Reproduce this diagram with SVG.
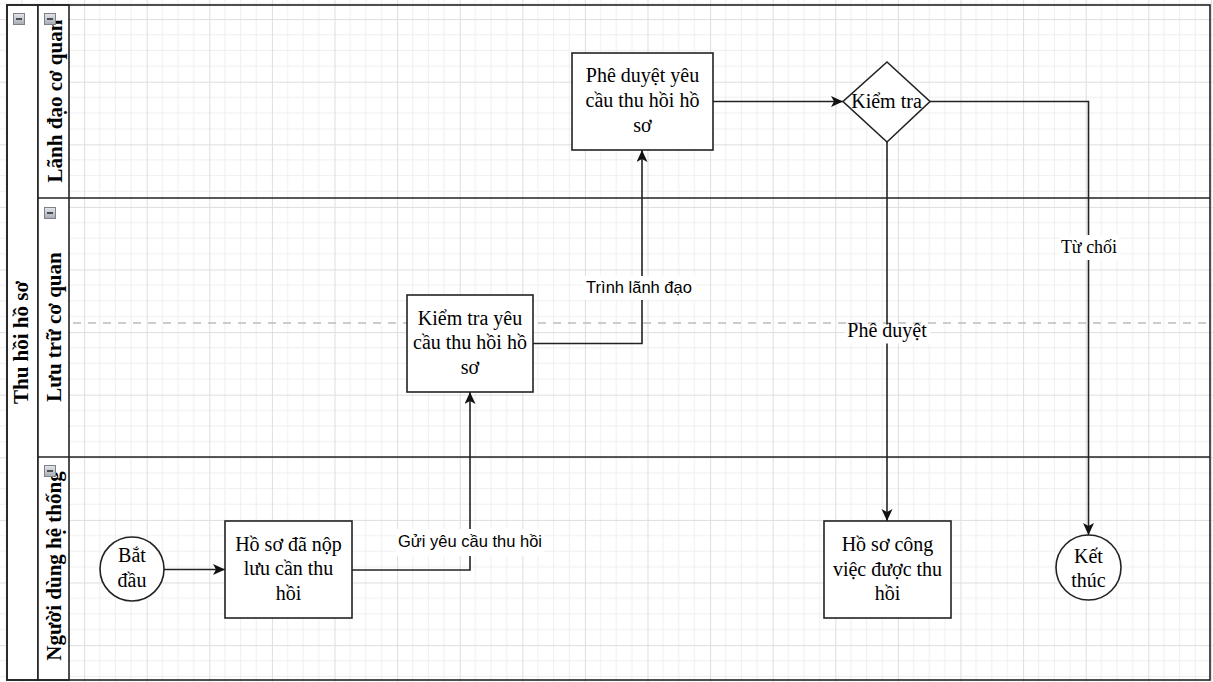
<svg xmlns="http://www.w3.org/2000/svg" width="1213" height="682" viewBox="0 0 1213 682">
  <defs>
    <!-- background grid: minor cells with a stronger line every 4 cells -->
    <pattern id="grid" patternUnits="userSpaceOnUse" x="21.5" y="19.1" width="62.6" height="62.6">
      <path d="M15.65,0 V62.6 M31.3,0 V62.6 M46.95,0 V62.6 M0,15.65 H62.6 M0,31.3 H62.6 M0,46.95 H62.6" stroke="#efefef" stroke-width="1" fill="none"/>
      <path d="M0.5,0 V62.6 M0,0.5 H62.6" stroke="#dedede" stroke-width="1" fill="none"/>
    </pattern>
    <linearGradient id="iconFill" x1="0" y1="0" x2="0" y2="1">
      <stop offset="0" stop-color="#e4e6ea"/>
      <stop offset="1" stop-color="#a7abb3"/>
    </linearGradient>
    <marker id="arrow" markerUnits="userSpaceOnUse" markerWidth="14" markerHeight="12" refX="12" refY="5.5" orient="auto">
      <path d="M0,0 L12,5.5 L0,11 L3,5.5 Z" fill="#111"/>
    </marker>
    <g id="collapse">
      <rect x="0.5" y="0.5" width="11" height="11" fill="url(#iconFill)" stroke="#7d828a" stroke-width="1"/>
      <rect x="3" y="5" width="6" height="2" fill="#4a4d52"/>
    </g>
  </defs>
  <style>
    .pool { fill: none; stroke: #222; stroke-width: 1.6; }
    .hdr { fill: #fff; stroke: #222; stroke-width: 1.6; }
    .sep { stroke: #222; stroke-width: 1.6; fill: none; }
    .mid { stroke: #bdbdbd; stroke-width: 1.5; stroke-dasharray: 8 7; fill: none; }
    .node { fill: #fff; stroke: #222; stroke-width: 1.6; }
    .edge { fill: none; stroke: #222; stroke-width: 1.6; }
    .lbl-bg { fill: #fff; }
    .title { font-family: "Liberation Serif", "Times New Roman", serif; font-weight: bold; font-size: 21px; fill: #000; text-anchor: middle; }
    .txt { font-family: "Liberation Serif", "Times New Roman", serif; font-size: 20px; fill: #000; text-anchor: middle; }
    .etxt { font-family: "Liberation Sans", Arial, sans-serif; font-size: 16.5px; fill: #000; text-anchor: middle; }
  </style>

  <rect x="0" y="0" width="1213" height="682" fill="#fff"/>
  <rect x="0" y="0" width="1213" height="682" fill="url(#grid)"/>

  <!-- pool and lanes -->
  <g id="pool">
    <rect class="hdr" x="7" y="5" width="31" height="675"/>
    <rect class="hdr" x="38" y="5" width="31" height="675"/>
    <rect class="pool" x="7" y="5" width="1203" height="675"/>
    <line class="sep" x1="38" y1="198" x2="1210" y2="198"/>
    <line class="sep" x1="38" y1="457" x2="1210" y2="457"/>
    <line class="mid" x1="73" y1="323" x2="1210" y2="323"/>
    <text class="title" transform="translate(28,342.5) rotate(-90)">Thu hồi hồ sơ</text>
    <text class="title" transform="translate(62,101) rotate(-90)">Lãnh đạo cơ quan</text>
    <text class="title" transform="translate(61,327) rotate(-90)">Lưu trữ cơ quan</text>
    <text class="title" transform="translate(61,566) rotate(-90)">Người dùng hệ thống</text>
    <use href="#collapse" x="13" y="13"/>
    <use href="#collapse" x="44" y="13"/>
    <use href="#collapse" x="44" y="207"/>
    <use href="#collapse" x="44" y="465"/>
  </g>

  <!-- connectors -->
  <g id="connectors">
    <path class="edge" d="M164,569.5 L225,569.5" marker-end="url(#arrow)"/>
    <path class="edge" d="M352,570 L470,570 L470,392" marker-end="url(#arrow)"/>
    <path class="edge" d="M533,343.5 L642,343.5 L642,150" marker-end="url(#arrow)"/>
    <path class="edge" d="M713,101.5 L843,101.5" marker-end="url(#arrow)"/>
    <path class="edge" d="M887,142 L887,521" marker-end="url(#arrow)"/>
    <path class="edge" d="M930,101.5 L1088.5,101.5 L1088.5,535" marker-end="url(#arrow)"/>

    <rect class="lbl-bg" x="396" y="529" width="148" height="27"/>
    <text class="etxt" x="470" y="547">Gửi yêu cầu thu hồi</text>
    <rect class="lbl-bg" x="583" y="276" width="113" height="24"/>
    <text class="etxt" x="639" y="292.5">Trình lãnh đạo</text>
    <rect class="lbl-bg" x="845" y="324.5" width="85" height="19"/>
    <text class="txt" x="887" y="337">Phê duyệt</text>
    <rect class="lbl-bg" x="1060" y="235" width="59" height="25"/>
    <text class="txt" x="1089" y="253" style="font-size:18px">Từ chối</text>
  </g>

  <!-- nodes -->
  <g id="start">
    <circle class="node" cx="132" cy="569" r="32"/>
    <text class="txt" x="132" y="562">Bắt</text>
    <text class="txt" x="132" y="587">đầu</text>
  </g>
  <g id="submitted">
    <rect class="node" x="225" y="521" width="127" height="97"/>
    <text class="txt" x="288.5" y="550.5">Hồ sơ đã nộp</text>
    <text class="txt" x="288.5" y="575">lưu cần thu</text>
    <text class="txt" x="288.5" y="599.5">hồi</text>
  </g>
  <g id="review">
    <rect class="node" x="407" y="295" width="126" height="97"/>
    <text class="txt" x="470" y="324.5">Kiểm tra yêu</text>
    <text class="txt" x="470" y="349">cầu thu hồi hồ</text>
    <text class="txt" x="470" y="373.5">sơ</text>
  </g>
  <g id="approve">
    <rect class="node" x="572" y="53" width="141" height="97"/>
    <text class="txt" x="642.5" y="82">Phê duyệt yêu</text>
    <text class="txt" x="642.5" y="107">cầu thu hồi hồ</text>
    <text class="txt" x="642.5" y="131.5">sơ</text>
  </g>
  <g id="check">
    <polygon class="node" points="887,62 930,101.5 887,142 843,101.5"/>
    <text class="txt" x="886.5" y="108">Kiểm tra</text>
  </g>
  <g id="recalled">
    <rect class="node" x="824" y="521" width="127" height="97"/>
    <text class="txt" x="887.5" y="551">Hồ sơ công</text>
    <text class="txt" x="887.5" y="575.5">việc được thu</text>
    <text class="txt" x="887.5" y="600">hồi</text>
  </g>
  <g id="end">
    <circle class="node" cx="1088.5" cy="567.5" r="32.5"/>
    <text class="txt" x="1088.5" y="562.5">Kết</text>
    <text class="txt" x="1088.5" y="587">thúc</text>
  </g>
</svg>
